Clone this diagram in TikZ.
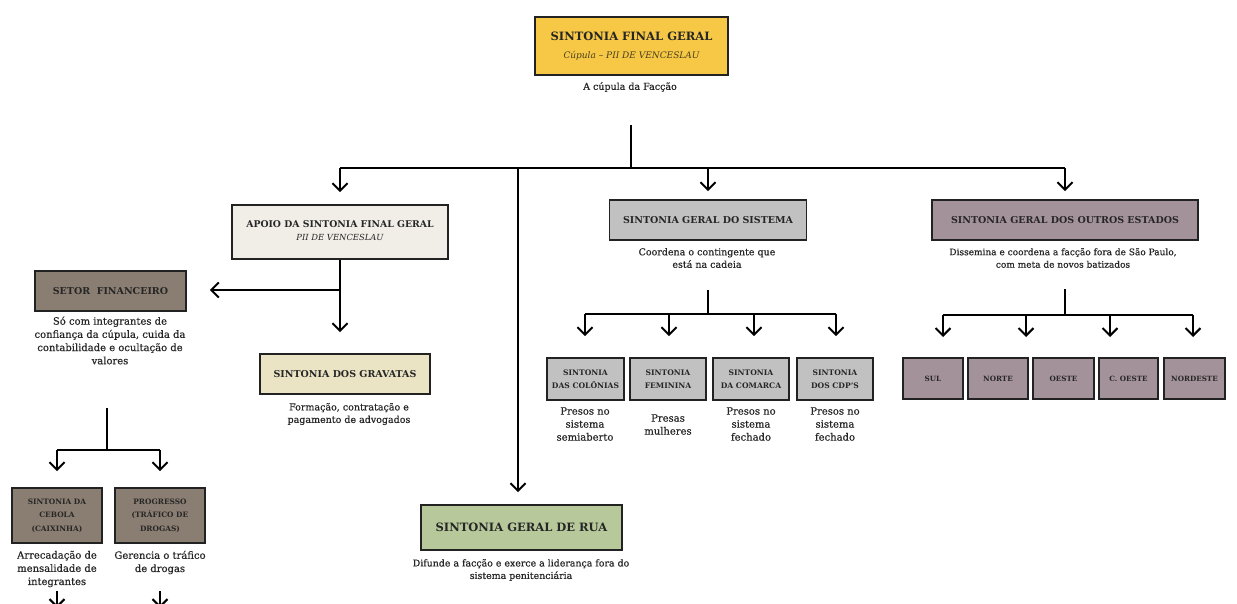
\documentclass[tikz,border=0pt]{standalone}
\usepackage{fontspec}
\setmainfont{DejaVu Serif}
\newfontfamily\descfont{DejaVu Serif}[FakeBold=0.5]
\usetikzlibrary{arrows.meta}
\definecolor{cYel}{HTML}{F6C845}
\definecolor{cApoio}{HTML}{F1EEE8}
\definecolor{cGrav}{HTML}{EAE4C4}
\definecolor{cBrown}{HTML}{8A7D71}
\definecolor{cGreen}{HTML}{B7C99B}
\definecolor{cGray}{HTML}{C1C1C1}
\definecolor{cMauve}{HTML}{A39299}
\definecolor{cText}{HTML}{262626}
\definecolor{cSub}{HTML}{4A3F1E}
\definecolor{cBord}{HTML}{222222}
\begin{document}
\begin{tikzpicture}[x=1pt,y=-1pt,
  conn/.style={line width=2pt, draw=black},
  arr/.style={conn, -{Straight Barb[length=7.5pt,width=15pt]}},
  box/.style={draw=cBord, line width=1.8pt, inner sep=0pt, text=cText, align=center},
  bigT/.style={font=\bfseries\fontsize{11.5}{14}\selectfont, text=cText, inner sep=0pt},
  midT/.style={font=\bfseries\fontsize{9.5}{12}\selectfont},
  smlT/.style={font=\bfseries\fontsize{7.6}{13.5}\selectfont},
  desc/.style={align=center, text=cText, inner sep=0pt, font=\descfont\fontsize{9.5}{12.5}\selectfont},
  descL/.style={align=center, text=cText, inner sep=0pt, font=\descfont\fontsize{10}{13.2}\selectfont},
]
\useasboundingbox[fill=white] (0,0) rectangle (1237,603);

% ---------- top ----------
\node[box, fill=cYel, minimum width=193pt, minimum height=58pt] (top) at (631.5,46) {};
\node[bigT] (topT) at (631.5,36) {SINTONIA FINAL GERAL};
\node[font=\itshape\fontsize{9}{11}\selectfont, text=cSub, inner sep=0pt] (topS) at (631.5,56) {Cúpula – PII DE VENCESLAU};
\node[desc] (topD) at (630,87) {A cúpula da Facção};

\coordinate (h0) at (631,125);
\coordinate (hub) at (631,168);
\coordinate (hL) at (340,168);
\coordinate (hR) at (1065,168);
\coordinate (hRua) at (518,168);
\coordinate (hSis) at (708,168);

% ---------- level 1 ----------
\node[box, fill=cApoio, minimum width=216pt, minimum height=54pt] (apoio) at (340,232) {};
\node[font=\bfseries\fontsize{9.3}{11}\selectfont, text=cText, inner sep=0pt] (apoioT) at (340,224) {APOIO DA SINTONIA FINAL GERAL};
\node[font=\itshape\fontsize{8.4}{10}\selectfont, text=cText, inner sep=0pt] (apoioS) at (340,237) {PII DE VENCESLAU};

\node[box, fill=cGray, midT, minimum width=197pt, minimum height=40pt] (sis) at (708,220) {SINTONIA GERAL DO SISTEMA};
\node[desc] (sisD) at (707,258) {Coordena o contingente que\\está na cadeia};

\node[box, fill=cMauve, midT, minimum width=266pt, minimum height=40pt] (out) at (1065,220) {SINTONIA GERAL DOS OUTROS ESTADOS};
\node[desc, font=\descfont\fontsize{9}{12.5}\selectfont] (outD) at (1063,258) {Dissemina e coordena a facção fora de São Paulo,\\com meta de novos batizados};

\node[box, fill=cGreen, font=\bfseries\fontsize{11.5}{14}\selectfont, minimum width=201pt, minimum height=45pt] (rua) at (521.5,527.5) {SINTONIA GERAL DE RUA};
\node[desc, font=\descfont\fontsize{9.4}{12.5}\selectfont] (ruaD) at (521,570) {Difunde a facção e exerce a liderança fora do\\sistema penitenciária};

\draw[conn] (h0) -- (hub);
\draw[conn] (hL) -- (hR);
\draw[arr, shorten >=12pt] (hL) -- (apoio.north);
\draw[arr, shorten >=8pt] (hSis) -- (sis.north);
\draw[arr, shorten >=8pt] (hR) -- (out.north);
\draw[arr, shorten >=12pt] (hRua) -- (hRua |- rua.north);

% ---------- apoio branch ----------
\node[box, fill=cBrown, midT, minimum width=151pt, minimum height=40pt] (setor) at (110.5,291) {SETOR\ \ FINANCEIRO};
\node[descL] (setorD) at (110,340.5) {Só com integrantes de\\confiança da cúpula, cuida da\\contabilidade e ocultação de\\valores};

\node[box, fill=cGrav, midT, minimum width=170pt, minimum height=40pt] (grav) at (345,374) {SINTONIA DOS GRAVATAS};
\node[desc] (gravD) at (349,414) {Formação, contratação e\\pagamento de advogados};

\coordinate (aj) at (340,290);
\draw[conn] (apoio.south) -- (aj);
\draw[arr, shorten >=21pt] (aj) -- (apoio.south |- grav.north);
\draw[arr, shorten >=23pt] (aj) -- (setor.east |- aj);

% ---------- setor branch ----------
\node[box, fill=cBrown, font=\bfseries\fontsize{7.4}{13.5}\selectfont, minimum width=90pt, minimum height=55pt] (ceb) at (57,515.5) {SINTONIA DA\\CEBOLA\\(CAIXINHA)};
\node[box, fill=cBrown, font=\bfseries\fontsize{7.4}{13.5}\selectfont, minimum width=90pt, minimum height=55pt] (prog) at (160,515.5) {PROGRESSO\\(TRÁFICO DE\\DROGAS)};
\node[descL] (cebD) at (57,569) {Arrecadação de\\mensalidade de\\integrantes};
\node[descL] (progD) at (160,562.5) {Gerencia o tráfico\\de drogas};

\coordinate (sj0) at (107,408);
\coordinate (sj) at (107,450);
\coordinate (sjL) at (57,450);
\coordinate (sjR) at (160,450);
\draw[conn] (sj0) -- (sj);
\draw[conn] (sjL) -- (sjR);
\draw[arr, shorten >=16pt] (sjL) -- (ceb.north);
\draw[arr, shorten >=16pt] (sjR) -- (prog.north);
\coordinate (cebA0) at (57,591);
\coordinate (cebA1) at (57,608);
\coordinate (progA0) at (160,591);
\coordinate (progA1) at (160,608);
\draw[arr] (cebA0) -- (cebA1);
\draw[arr] (progA0) -- (progA1);

% ---------- sistema branch ----------
\node[box, fill=cGray, smlT, minimum width=77pt, minimum height=42pt] (s1) at (585.5,379) {SINTONIA\\DAS COLÔNIAS};
\node[box, fill=cGray, smlT, minimum width=76pt, minimum height=42pt] (s2) at (668,379) {SINTONIA\\FEMININA};
\node[box, fill=cGray, smlT, minimum width=76pt, minimum height=42pt] (s3) at (751,379) {SINTONIA\\DA COMARCA};
\node[box, fill=cGray, smlT, minimum width=76pt, minimum height=42pt] (s4) at (835,379) {SINTONIA\\DOS CDP'S};
\node[descL, font=\descfont\fontsize{10}{13}\selectfont] (s1D) at (585,424) {Presos no\\sistema\\semiaberto};
\node[descL, font=\descfont\fontsize{10}{13}\selectfont] (s2D) at (668,424.5) {Presas\\mulheres};
\node[descL, font=\descfont\fontsize{10}{13}\selectfont] (s3D) at (751,424) {Presos no\\sistema\\fechado};
\node[descL, font=\descfont\fontsize{10}{13}\selectfont] (s4D) at (835,424) {Presos no\\sistema\\fechado};

\coordinate (ssj0) at (708,290);
\coordinate (ssj) at (708,314);
\coordinate (ssL) at (585,314);
\coordinate (ssR) at (836,314);
\coordinate (ss2) at (669,314);
\coordinate (ss3) at (754,314);
\draw[conn] (ssj0) -- (ssj);
\draw[conn] (ssL) -- (ssR);
\draw[arr, shorten >=21pt] (ssL) -- (ssL |- s1.north);
\draw[arr, shorten >=21pt] (ss2) -- (ss2 |- s2.north);
\draw[arr, shorten >=21pt] (ss3) -- (ss3 |- s3.north);
\draw[arr, shorten >=21pt] (ssR) -- (ssR |- s4.north);

% ---------- outros estados branch ----------
\node[box, fill=cMauve, font=\bfseries\fontsize{7.2}{13.5}\selectfont, minimum width=60pt, minimum height=41pt] (r1) at (933,378.5) {SUL};
\node[box, fill=cMauve, font=\bfseries\fontsize{7.2}{13.5}\selectfont, minimum width=60pt, minimum height=41pt] (r2) at (998,378.5) {NORTE};
\node[box, fill=cMauve, font=\bfseries\fontsize{7.2}{13.5}\selectfont, minimum width=61pt, minimum height=41pt] (r3) at (1063.5,378.5) {OESTE};
\node[box, fill=cMauve, font=\bfseries\fontsize{7.2}{13.5}\selectfont, minimum width=59pt, minimum height=41pt] (r4) at (1128.5,378.5) {C. OESTE};
\node[box, fill=cMauve, font=\bfseries\fontsize{7.2}{13.5}\selectfont, minimum width=61pt, minimum height=41pt] (r5) at (1194.5,378.5) {NORDESTE};

\coordinate (oj0) at (1065,289);
\coordinate (oj) at (1065,315);
\coordinate (oL) at (943,315);
\coordinate (o2) at (1026,315);
\coordinate (o3) at (1110,315);
\coordinate (oR) at (1193,315);
\coordinate (oLt) at (943,337);
\coordinate (o2t) at (1026,337);
\coordinate (o3t) at (1110,337);
\coordinate (oRt) at (1193,337);
\draw[conn] (oj0) -- (oj);
\draw[conn] (oL) -- (oR);
\draw[arr] (oL) -- (oLt);
\draw[arr] (o2) -- (o2t);
\draw[arr] (o3) -- (o3t);
\draw[arr] (oR) -- (oRt);
\end{tikzpicture}
\end{document}
